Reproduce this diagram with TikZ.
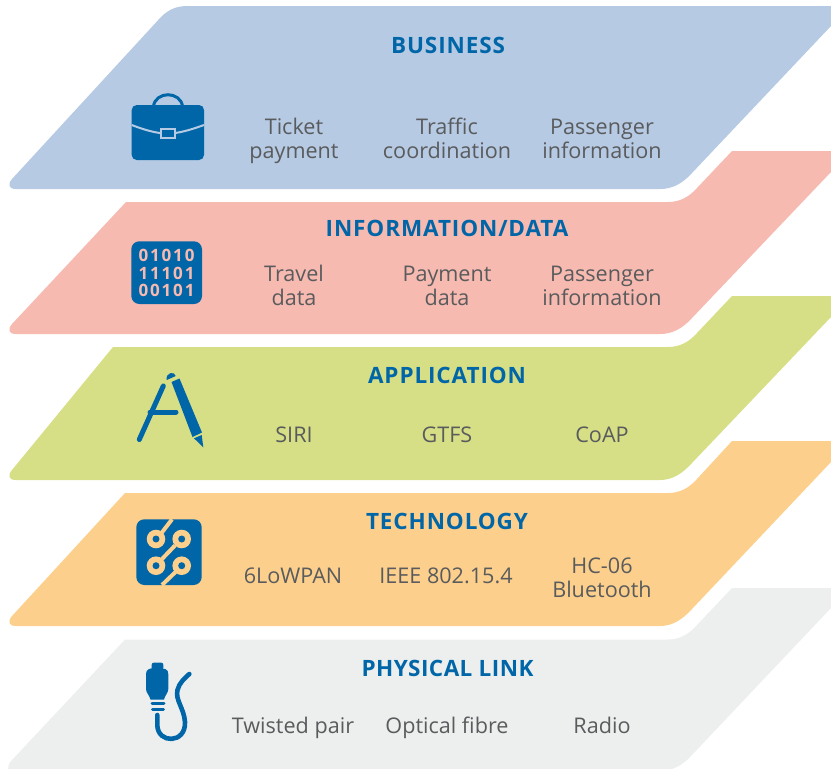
\documentclass[tikz,border=0pt]{standalone}
\usepackage{fontspec}
\setmainfont{Open Sans}
\definecolor{blu}{HTML}{0066A8}
\definecolor{txt}{HTML}{5A5B5D}
\definecolor{cBus}{HTML}{B6CAE3}
\definecolor{cInf}{HTML}{F7BAB0}
\definecolor{cApp}{HTML}{D6DF86}
\definecolor{cTec}{HTML}{FCD08C}
\definecolor{cPhy}{HTML}{EDEFEF}
\tikzset{
 ttl/.style={font=\fontsize{22.5}{24}\selectfont\bfseries\addfontfeatures{LetterSpace=4},text=blu,anchor=center,inner sep=0pt},
 lbl/.style={font=\fontsize{21.6}{24}\selectfont,text=txt,align=center,anchor=center,inner sep=0pt,execute at begin node=\strut,execute at end node=\strut},
}
\begin{document}
\begin{tikzpicture}[x=1pt,y=-1pt]
\useasboundingbox (0,0) rectangle (831,769);
% layers
\fill[cBus] (188,6) -- (831,6) -- (831,26) -- (692,173) .. controls (682,184) and (672,189) .. (660,189)
 -- (16,189) .. controls (9,189) and (7,185) .. (12,179) -- (161,17) .. controls (169,9) and (177,6) .. (188,6) -- cycle;
\fill[cInf] (126,202) -- (668,202) .. controls (680,202) and (689,197) .. (697,188) -- (732,151) -- (831,151) -- (831,172) -- (692,318) .. controls (682,329) and (672,334) .. (660,334)
 -- (16,334) .. controls (9,334) and (7,330) .. (12,324) -- cycle;
\fill[cApp] (113,347) -- (668,347) .. controls (680,347) and (689,342) .. (697,333) -- (732,296) -- (831,296) -- (831,317) -- (692,463) .. controls (682,474) and (672,480) .. (660,480)
 -- (16,480) .. controls (9,480) and (7,476) .. (12,470) -- cycle;
\fill[cTec] (125,493) -- (668,493) .. controls (680,493) and (689,488) .. (697,479) -- (732,441) -- (831,441) -- (831,462) -- (692,609) .. controls (682,620) and (672,626) .. (660,626)
 -- (16,626) .. controls (9,626) and (7,622) .. (12,616) -- cycle;
\fill[cPhy] (125,639.5) -- (668,639.5) .. controls (680,639.5) and (689,634) .. (697,625) -- (732,588) -- (831,588) -- (831,608) -- (692,755) .. controls (685,763) and (678,767) .. (672,769) -- (8,769) .. controls (8,766) and (9,763) .. (12,760) -- cycle;
% titles
\node[ttl] (t1) at (448,45) {BUSINESS};
\node[ttl] (t2) at (447,228) {INFORMATION/DATA};
\node[ttl] (t3) at (447,375) {APPLICATION};
\node[ttl] (t4) at (447,521) {TECHNOLOGY};
\node[ttl] (t5) at (447.5,668) {\addfontfeatures{LetterSpace=2}PHYSICAL LINK};
% labels
\node[lbl] (a1) at (294,141.8) {Ticket\\payment};
\node[lbl] (a2) at (447,141.8) {Traffic\\coordination};
\node[lbl] (a3) at (602,142.2) {Passenger\\information};
\node[lbl] (b1) at (294,289.3) {Travel\\data};
\node[lbl] (b2) at (447,289.3) {Payment\\data};
\node[lbl] (b3) at (602,289.3) {Passenger\\information};
\node[lbl] (c1) at (294,437.2) {SIRI};
\node[lbl] (c2) at (447,437.2) {GTFS};
\node[lbl] (c3) at (602,437.2) {CoAP};
\node[lbl] (d1) at (293,578.6) {6LoWPAN};
\node[lbl] (d2) at (446,578.6) {IEEE 802.15.4};
\node[lbl] (d3) at (602,581.2) {HC-06\\Bluetooth};
\node[lbl] (e1) at (293,728.6) {Twisted pair};
\node[lbl] (e2) at (447,728.6) {Optical fibre};
\node[lbl] (e3) at (602,728.6) {Radio};
% briefcase
\draw[blu,line width=3pt] (153.5,106) .. controls (156,91) and (180,91) .. (182.5,106);
\fill[rounded corners=5pt,blu] (131.7,105) rectangle (204,160);
\draw[cBus,line width=2pt] (131.7,125) .. controls (142,129) and (152,132) .. (160,133);
\draw[cBus,line width=2pt] (175,133) .. controls (183,132) and (193,129) .. (204,125);
\draw[cBus,line width=2pt] (161,128.5) rectangle (174.5,138);
% binary
\fill[blu,rounded corners=8pt] (131.3,241.3) rectangle (202,304);
\begin{scope}[every node/.style={inner sep=0pt,text=cInf,font=\fontsize{17}{17}\selectfont\bfseries\addfontfeatures{LetterSpace=11}}]
\node (n1) at (166.5,255.7) {01010};
\node (n2) at (166.5,273.2) {11101};
\node (n3) at (166.5,290.7) {00101};
\end{scope}
% pen A
\draw[blu,line width=5pt,line cap=round] (139.3,439.5) -- (163.3,386);
\draw[blu,line width=5pt,line cap=round] (150,412) -- (176,412);
\fill[blu] (171.5,382) -- (179.5,378.5) -- (202,432.5) -- (192.5,437) -- cycle;
\fill[blu] (166.7,380) .. controls (165.5,372) and (175,371) .. (175.7,376) -- cycle;
\fill[blu] (194,438.3) -- (201.7,435) -- (203.3,447.3) -- cycle;
% circuit
\fill[blu,rounded corners=8pt] (136.3,519.3) rectangle (201.7,585);
\draw[cTec,line width=4pt] (160,535) -- (172,519.3);
\draw[cTec,line width=4pt] (175,545.5) -- (162,559);
\draw[cTec,line width=4pt] (175.5,572) -- (162,585);
\foreach \nm/\px/\py in {r1/156/539,r2/181.7/539,r3/156/565.7,r4/181.7/565.7}{
 \fill[cTec] (\px,\py) circle (9.3pt);
 \fill[blu] (\px,\py) circle (3.5pt);
}
% cable
\fill[blu,rounded corners=2pt] (151.7,662.7) rectangle (163.3,670);
\fill[blu] (146,674) .. controls (146,669) and (150,668) .. (156,668) .. controls (165,668) and (168.3,669) .. (168.3,674)
 -- (168.3,689) .. controls (168.3,693) and (165,695) .. (164,699.5) -- (150.5,699.5) .. controls (149.5,695) and (146,693) .. (146,689) -- cycle;
\draw[blu,line width=3pt,line cap=round] (152,703.5) -- (164,703.5);
\draw[blu,line width=3pt,line cap=round] (152.5,709.5) -- (163.5,709.5);
\draw[blu,line width=4.6pt,line cap=round] (157.3,715) -- (157.3,725) .. controls (157.5,744) and (186,744) .. (185,722) .. controls (184,708) and (175,700) .. (177.5,690) .. controls (179,683) and (185,678) .. (189.3,674);
\end{tikzpicture}
\end{document}
